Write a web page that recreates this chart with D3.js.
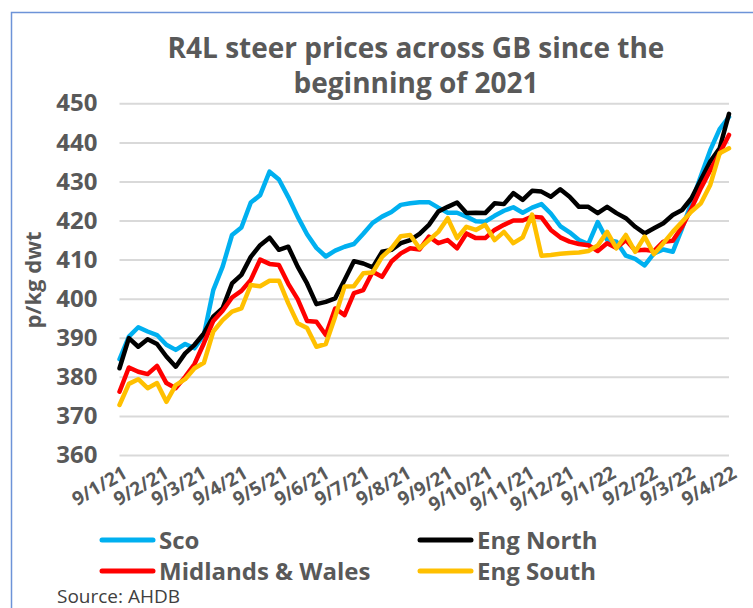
<!DOCTYPE html>
<html><head><meta charset="utf-8">
<script src="https://cdn.jsdelivr.net/npm/d3@7"></script>
<style>
body{margin:0;background:#fff;}
svg{display:block;font-family:"Open Sans",Lato,sans-serif;}
</style>
</head><body>
<svg id="c" width="753" height="608"></svg>
<script>
// ---- data ----
const startDate = "2021-01-09"; // first weekly observation
const tickLabels = ["9/1/21","9/2/21","9/3/21","9/4/21","9/5/21","9/6/21","9/7/21","9/8/21",
  "9/9/21","9/10/21","9/11/21","9/12/21","9/1/22","9/2/22","9/3/22","9/4/22"];
const yTicks = [360,370,380,390,400,410,420,430,440,450];
const seriesNames = ["Sco","Eng North","Midlands & Wales","Eng South"];
const seriesColors = ["#00b0f0","#000000","#ff0000","#ffc000"];

const sco = [384.5,390.3,392.7,391.6,390.7,388.2,386.9,388.4,387.3,390.7,
  402.2,408.2,416.3,418.2,424.6,426.5,432.5,430.5,426.0,421.0,
  416.5,413.0,410.8,412.3,413.3,414.0,416.6,419.4,421.0,422.2,
  424.0,424.4,424.7,424.7,423.3,422.0,422.0,421.0,419.8,419.7,
  421.2,422.5,423.4,422.0,423.3,424.2,421.8,418.6,417.0,415.0,
  414.0,419.6,415.0,414.6,411.0,410.2,408.5,411.6,412.6,412.0,
  418.0,424.6,431.4,438.0,443.4,446.5];
const engNorth = [382.2,389.9,387.7,389.6,388.4,385.2,382.6,386.0,388.2,391.1,
  395.4,397.6,403.9,406.1,410.7,413.7,415.6,412.5,413.3,408.2,
  403.9,398.6,399.2,400.1,404.8,409.6,409.0,408.0,412.0,412.5,
  414.2,415.0,416.6,418.9,422.3,423.5,424.6,421.9,422.0,421.9,
  424.4,424.2,427.0,425.3,427.6,427.4,426.1,428.0,426.1,423.5,
  423.5,421.9,423.5,421.9,420.6,418.4,416.7,418.0,419.3,421.4,
  422.7,425.7,430.4,435.1,438.5,447.3];
const midlandsWales = [376.2,382.4,381.3,380.7,382.8,378.4,377.1,380.0,383.3,388.6,
  394.3,396.9,400.3,402.0,404.8,410.0,408.9,408.6,403.8,399.9,
  394.3,394.1,390.7,397.5,395.8,401.4,402.2,406.9,405.6,409.5,
  411.6,412.9,412.6,415.9,414.2,415.0,412.9,416.7,415.5,415.5,
  417.6,418.9,420.0,420.0,421.0,420.8,417.6,415.7,414.6,414.0,
  413.7,412.2,414.2,413.0,415.0,412.3,412.5,412.2,414.6,414.8,
  418.4,423.1,428.3,432.9,437.2,441.9];
const engSouth = [372.8,378.2,379.4,377.1,378.4,373.6,377.9,379.4,382.2,383.6,
  391.6,394.5,396.7,397.5,403.5,403.2,404.6,404.6,398.8,393.7,
  392.5,387.7,388.4,395.4,403.1,403.2,406.5,406.7,410.7,412.9,
  416.0,416.3,412.9,415.0,417.1,420.6,415.5,418.4,417.6,418.9,
  415.0,417.1,414.2,415.7,421.5,411.0,411.2,411.5,411.7,411.8,
  412.2,413.6,417.1,412.9,416.3,412.0,415.9,411.4,414.2,417.1,
  419.7,422.3,424.4,429.1,437.2,438.5];

// ---- chart ----
const svg = d3.select("#c");
const X0 = 119.5, X1 = 729, Y0 = 455, Y1 = 103.3;
const t0 = d3.utcParse("%Y-%m-%d")(startDate);
const dates = sco.map((_, i) => d3.utcDay.offset(t0, 7 * i));
const parseTick = d3.utcParse("%d/%m/%y");
const tickDates = tickLabels.map(parseTick);

const x = d3.scaleUtc().domain([dates[0], dates[dates.length - 1]]).range([X0, X1]);
const y = d3.scaleLinear().domain([360, 450]).range([Y0, Y1]);

// outer border
svg.append("path").attr("d", "M11.5,608 L11.5,12.5 L753,12.5")
  .attr("fill", "none").attr("stroke", "#6d93d8").attr("stroke-width", 1.5);

// title
const title = svg.append("text").attr("text-anchor", "middle")
  .attr("fill", "#595959").attr("font-weight", 700).attr("font-size", 28);
title.append("tspan").attr("x", 416).attr("y", 58).text("R4L steer prices across GB since the");
title.append("tspan").attr("x", 416).attr("y", 93).text("beginning of 2021");

// y axis with gridlines
const yAxis = svg.append("g").attr("transform", `translate(${X0},0)`)
  .call(d3.axisLeft(y).tickValues(yTicks).tickSize(-(X1 - X0)).tickPadding(22).tickFormat(d3.format("d")));
yAxis.select(".domain").remove();
yAxis.selectAll(".tick line").attr("stroke", "#d9d9d9").attr("stroke-width", 2);
yAxis.selectAll(".tick text").attr("fill", "#595959").attr("font-weight", 700)
  .attr("font-size", 24).attr("font-family", "Open Sans");

// y axis title
svg.append("text").attr("transform", "translate(41,280) rotate(-90)")
  .attr("text-anchor", "middle").attr("fill", "#595959").attr("font-weight", 700)
  .attr("font-size", 22).text("p/kg dwt");

// x axis
const xAxis = svg.append("g").attr("transform", `translate(0,${Y0})`)
  .call(d3.axisBottom(x).tickValues(tickDates).tickSize(0).tickFormat((d, i) => tickLabels[i]));
xAxis.select(".domain").remove();
xAxis.selectAll(".tick text")
  .attr("fill", "#595959").attr("font-weight", 700).attr("font-size", 19).attr("font-family", "Open Sans")
  .attr("text-anchor", "end").attr("x", 0).attr("y", 0).attr("dy", "0.35em")
  .attr("transform", "translate(5,16) rotate(-30)");

// lines
const allSeries = [sco, engNorth, midlandsWales, engSouth];
const line = d3.line().x((d, i) => x(dates[i])).y(d => y(d));
svg.append("g").selectAll("path").data(allSeries).join("path")
  .attr("d", d => line(d)).attr("fill", "none")
  .attr("stroke", (d, i) => seriesColors[i]).attr("stroke-width", 4.5)
  .attr("stroke-linejoin", "round").attr("stroke-linecap", "round");

// legend
const legPos = [[100, 540], [418, 540], [100, 571], [418, 571]];
const leg = svg.append("g");
seriesNames.forEach((n, i) => {
  const [lx, ly] = legPos[i];
  leg.append("line").attr("x1", lx + 2).attr("x2", lx + 53).attr("y1", ly).attr("y2", ly)
    .attr("stroke", seriesColors[i]).attr("stroke-width", 5).attr("stroke-linecap", "round");
  leg.append("text").attr("x", lx + 59).attr("y", ly + 8.5).attr("fill", "#595959")
    .attr("font-weight", 700).attr("font-size", 24).text(n);
});

// source
svg.append("text").attr("x", 57).attr("y", 603).attr("fill", "#404040")
  .attr("font-size", 19).text("Source: AHDB");
</script>
</body></html>
